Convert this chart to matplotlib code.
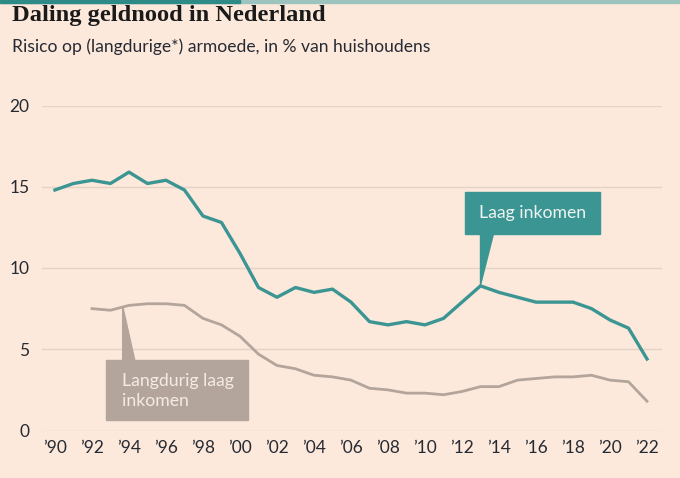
import matplotlib.pyplot as plt
from matplotlib.patches import Rectangle, Polygon

# Risico op armoede, % van huishoudens
years = list(range(1990, 2023))
laag_inkomen = [14.8, 15.2, 15.4, 15.2, 15.9, 15.2, 15.4, 14.8, 13.2, 12.8,
                10.9, 8.8, 8.2, 8.8, 8.5, 8.7, 7.9, 6.7, 6.5, 6.7,
                6.5, 6.9, 7.9, 8.9, 8.5, 8.2, 7.9, 7.9, 7.9, 7.5,
                6.8, 6.3, 4.4]
years_lang = list(range(1992, 2023))
langdurig = [7.5, 7.4, 7.7, 7.8, 7.8, 7.7, 6.9, 6.5, 5.8, 4.7,
             4.0, 3.8, 3.4, 3.3, 3.1, 2.6, 2.5, 2.3, 2.3, 2.2,
             2.4, 2.7, 2.7, 3.1, 3.2, 3.3, 3.3, 3.4, 3.1, 3.0,
             1.8]
y_ticks = [0, 5, 10, 15, 20]
x_ticks = list(range(1990, 2023, 2))
x_labels = ["\u2019%02d" % (y % 100) for y in x_ticks]

bg = "#fde9dc"
teal = "#3b9593"
grey = "#b3a59c"
grid = "#e3d3c6"

fig = plt.figure(figsize=(6.8, 4.78), dpi=100, facecolor=bg)
ax = fig.add_axes([42 / 680, 1 - 430.5 / 478, 620 / 680, 325 / 478])
ax.set_facecolor(bg)

for y in y_ticks:
    ax.axhline(y, color=grid, lw=1, zorder=0)

ax.plot(years_lang, langdurig, color=grey, lw=2, zorder=2)
ax.plot(years, laag_inkomen, color=teal, lw=2.4, zorder=3)

ax.set_xlim(1989.30, 2022.81)
ax.set_ylim(0, 20)
ax.set_yticks(y_ticks)
ax.set_xticks(x_ticks)
ax.set_xticklabels(x_labels)
ax.tick_params(length=0, labelsize=12.5, colors="#262a33", pad=7)
ax.tick_params(axis="y", pad=9)
for lab in ax.get_xticklabels() + ax.get_yticklabels():
    lab.set_family("Lato")
for s in ax.spines.values():
    s.set_visible(False)

# label box: Laag inkomen
ax.add_patch(Rectangle((2012.16, 12.09), 7.3, 2.59, color=teal, zorder=4, clip_on=False))
ax.add_patch(Polygon([(2013.0, 12.1), (2013.7, 12.1), (2013.0, 8.95)], color=teal, zorder=4))
ax.text(2015.81, 13.38, "Laag inkomen", color="#eef4f2", fontsize=12.7, family="Lato",
        ha="center", va="center", zorder=5)

# label box: Langdurig laag inkomen
ax.add_patch(Rectangle((1992.76, 0.65), 7.67, 3.69, color=grey, zorder=4, clip_on=False))
ax.add_patch(Polygon([(1993.66, 4.3), (1994.32, 4.3), (1993.66, 7.65)], color=grey, zorder=4))
ax.text(1993.6, 2.45, "Langdurig laag\ninkomen", color="#f4ebe4", fontsize=12.7, family="Lato",
        ha="left", va="center", linespacing=1.3, zorder=5)

# titles
fig.text(12 / 680, 1 - 16 / 478, "Daling geldnood in Nederland", family="Liberation Serif",
         weight="bold", fontsize=17.6, color="#1a1a1a", va="center")
fig.text(12 / 680, 1 - 47 / 478, "Risico op (langdurige*) armoede, in % van huishoudens",
         family="Lato", fontsize=12.6, color="#262a33", va="center")

# top strip
fig.add_artist(Rectangle((0, 1 - 3 / 478), 1, 3 / 478, transform=fig.transFigure, color="#9cc3bd"))
fig.add_artist(Rectangle((0, 1 - 3 / 478), 240 / 680, 3 / 478, transform=fig.transFigure, color="#2e8a86"))

fig.savefig("out.png", dpi=100, facecolor=bg)
